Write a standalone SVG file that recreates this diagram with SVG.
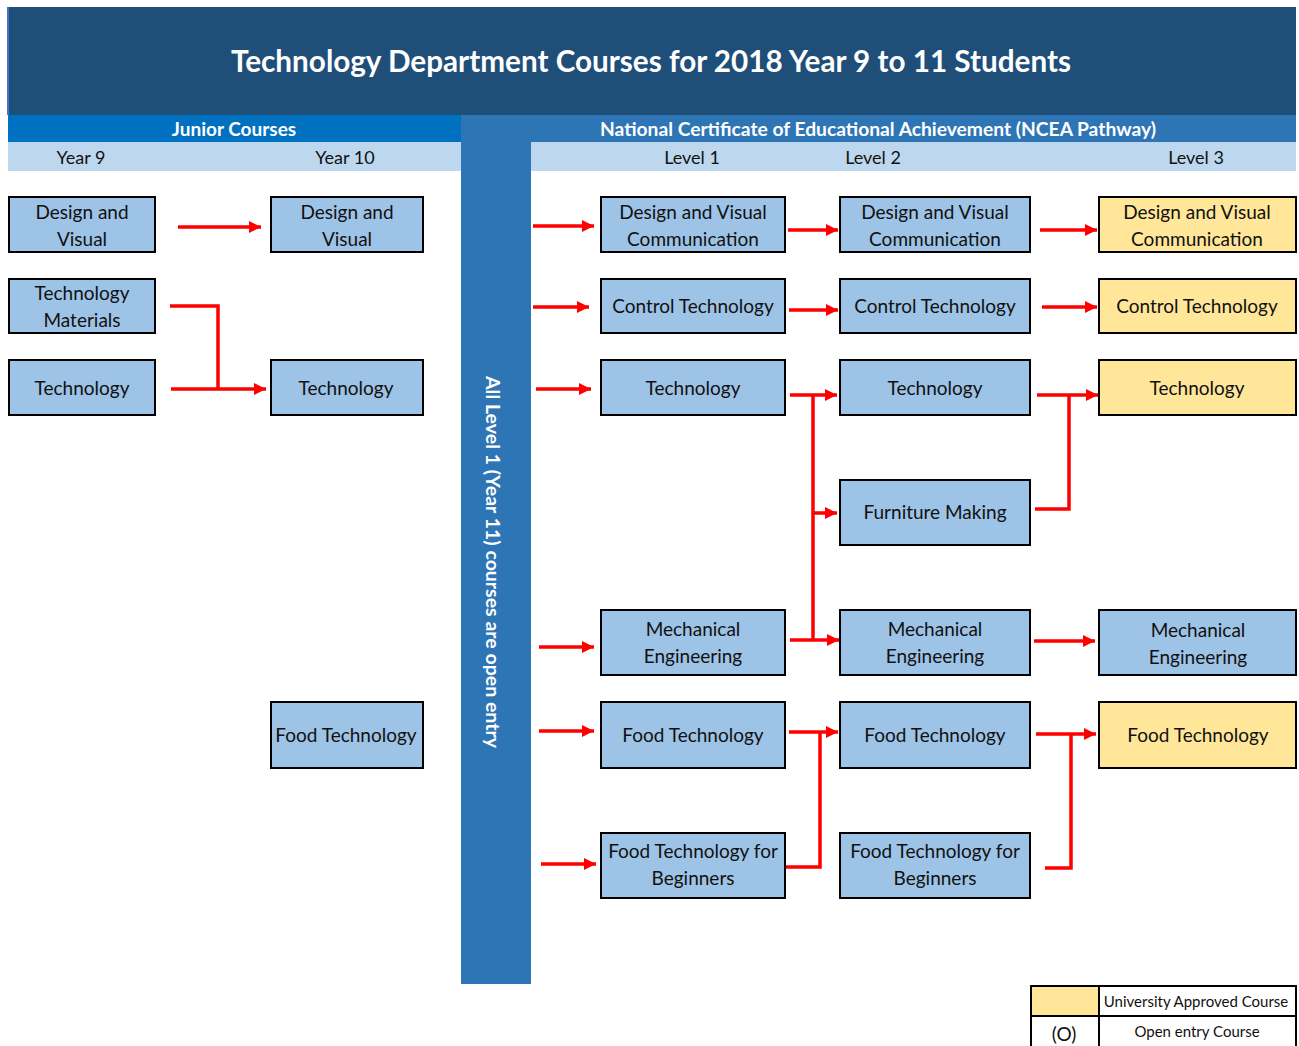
<svg xmlns="http://www.w3.org/2000/svg" width="1299" height="1046" viewBox="0 0 1299 1046">
<defs>
<marker id="ah" markerUnits="userSpaceOnUse" markerWidth="12" markerHeight="12" refX="12" refY="6" orient="auto">
<path d="M0,0 L12,6 L0,12 z" fill="#FF0000"/>
</marker>
<style>
.nb{fill:#9DC3E6;stroke:#000;stroke-width:2}
.ny{fill:#FFE699;stroke:#000;stroke-width:2}
.t{font-family:Lato,"Liberation Sans",sans-serif;font-size:19px;fill:#111;text-anchor:middle}
.hw{font-family:Lato,"Liberation Sans",sans-serif;font-weight:bold;fill:#fff;text-anchor:middle}
.lv{font-family:Lato,"Liberation Sans",sans-serif;font-size:18px;fill:#111;text-anchor:middle}
.c path{fill:none;stroke:#FF0000;stroke-width:3.5}
.a{marker-end:url(#ah)}
.lg{font-family:Lato,"Liberation Sans",sans-serif;font-size:15px;fill:#111;text-anchor:middle}
</style>
</defs>
<rect width="1299" height="1046" fill="#fff"/>
<g id="header">
<rect x="7" y="7" width="1289" height="108" fill="#1F4E79"/>
<rect x="7" y="7" width="2" height="108" fill="#4472C4"/>
<text class="hw" x="651" y="72" style="font-size:30px" textLength="840" lengthAdjust="spacingAndGlyphs">Technology Department Courses for 2018 Year 9 to 11 Students</text>
<rect x="8" y="115" width="453" height="27" fill="#0070C0"/>
<rect x="461" y="115" width="835" height="27" fill="#2E75B6"/>
<text class="hw" x="234" y="136" style="font-size:19px">Junior Courses</text>
<text class="hw" x="878" y="136" style="font-size:19px" textLength="556" lengthAdjust="spacingAndGlyphs">National Certificate of Educational Achievement (NCEA Pathway)</text>
<rect x="8" y="142" width="453" height="29" fill="#BDD7EE"/>
<rect x="531" y="142" width="765" height="29" fill="#BDD7EE"/>
<text class="lv" x="81" y="164">Year 9</text>
<text class="lv" x="345" y="164">Year 10</text>
<text class="lv" x="692" y="164">Level 1</text>
<text class="lv" x="873" y="164">Level 2</text>
<text class="lv" x="1196" y="164">Level 3</text>
</g>
<g id="open-entry-column">
<rect x="461" y="142" width="70" height="842" fill="#2E75B6"/>
<text class="hw" style="font-size:19px" transform="translate(486,562) rotate(90)" textLength="372" lengthAdjust="spacingAndGlyphs">All Level 1 (Year 11) courses are open entry</text>
</g>
<g id="y9-dv"><rect class="nb" x="9" y="197" width="146" height="55"/><text class="t" x="82" y="219">Design and</text><text class="t" x="82" y="246">Visual</text></g>
<g id="y9-tm"><rect class="nb" x="9" y="279" width="146" height="54"/><text class="t" x="82" y="300">Technology</text><text class="t" x="82" y="327">Materials</text></g>
<g id="y9-tech"><rect class="nb" x="9" y="360" width="146" height="55"/><text class="t" x="82" y="395">Technology</text></g>
<g id="y10-dv"><rect class="nb" x="271" y="197" width="152" height="55"/><text class="t" x="347" y="219">Design and</text><text class="t" x="347" y="246">Visual</text></g>
<g id="y10-tech"><rect class="nb" x="271" y="360" width="152" height="55"/><text class="t" x="346" y="395">Technology</text></g>
<g id="y10-food"><rect class="nb" x="271" y="702" width="152" height="66"/><text class="t" x="346" y="742">Food Technology</text></g>
<g id="l1-dvc"><rect class="nb" x="601" y="197" width="184" height="55"/><text class="t" x="693" y="219">Design and Visual</text><text class="t" x="693" y="246">Communication</text></g>
<g id="l1-ct"><rect class="nb" x="601" y="279" width="184" height="54"/><text class="t" x="693" y="313">Control Technology</text></g>
<g id="l1-tech"><rect class="nb" x="601" y="360" width="184" height="55"/><text class="t" x="693" y="395">Technology</text></g>
<g id="l1-me"><rect class="nb" x="601" y="610" width="184" height="65"/><text class="t" x="693" y="636">Mechanical</text><text class="t" x="693" y="663">Engineering</text></g>
<g id="l1-food"><rect class="nb" x="601" y="702" width="184" height="66"/><text class="t" x="693" y="742">Food Technology</text></g>
<g id="l1-ftb"><rect class="nb" x="601" y="833" width="184" height="65"/><text class="t" x="693" y="858">Food Technology for</text><text class="t" x="693" y="885">Beginners</text></g>
<g id="l2-dvc"><rect class="nb" x="840" y="197" width="190" height="55"/><text class="t" x="935" y="219">Design and Visual</text><text class="t" x="935" y="246">Communication</text></g>
<g id="l2-ct"><rect class="nb" x="840" y="279" width="190" height="54"/><text class="t" x="935" y="313">Control Technology</text></g>
<g id="l2-tech"><rect class="nb" x="840" y="360" width="190" height="55"/><text class="t" x="935" y="395">Technology</text></g>
<g id="l2-furn"><rect class="nb" x="840" y="480" width="190" height="65"/><text class="t" x="935" y="519">Furniture Making</text></g>
<g id="l2-me"><rect class="nb" x="840" y="610" width="190" height="65"/><text class="t" x="935" y="636">Mechanical</text><text class="t" x="935" y="663">Engineering</text></g>
<g id="l2-food"><rect class="nb" x="840" y="702" width="190" height="66"/><text class="t" x="935" y="742">Food Technology</text></g>
<g id="l2-ftb"><rect class="nb" x="840" y="833" width="190" height="65"/><text class="t" x="935" y="858">Food Technology for</text><text class="t" x="935" y="885">Beginners</text></g>
<g id="l3-dvc"><rect class="ny" x="1099" y="197" width="197" height="55"/><text class="t" x="1197" y="219">Design and Visual</text><text class="t" x="1197" y="246">Communication</text></g>
<g id="l3-ct"><rect class="ny" x="1099" y="279" width="197" height="54"/><text class="t" x="1197" y="313">Control Technology</text></g>
<g id="l3-tech"><rect class="ny" x="1099" y="360" width="197" height="55"/><text class="t" x="1197" y="395">Technology</text></g>
<g id="l3-me"><rect class="nb" x="1099" y="610" width="197" height="65"/><text class="t" x="1198" y="637">Mechanical</text><text class="t" x="1198" y="664">Engineering</text></g>
<g id="l3-food"><rect class="ny" x="1099" y="702" width="197" height="66"/><text class="t" x="1198" y="742">Food Technology</text></g>
<g id="connectors" class="c">
<path class="a" d="M178,227 H261"/>
<path d="M170,306 H218 V389"/>
<path class="a" d="M171,389 H266"/>
<path class="a" d="M533,226 H594"/>
<path class="a" d="M533,307 H589"/>
<path class="a" d="M536,389 H591"/>
<path class="a" d="M539,647 H594"/>
<path class="a" d="M539,731 H594"/>
<path class="a" d="M541,864 H596"/>
<path class="a" d="M788,230 H838"/>
<path class="a" d="M789,310 H838"/>
<path class="a" d="M790,395 H837"/>
<path d="M813,395 V640"/>
<path class="a" d="M813,513 H837"/>
<path class="a" d="M790,640 H839"/>
<path class="a" d="M1040,230 H1097"/>
<path class="a" d="M1042,307 H1097"/>
<path class="a" d="M1037,395 H1098"/>
<path d="M1035,509 H1069 V395"/>
<path class="a" d="M1034,641 H1095"/>
<path class="a" d="M789,732 H838"/>
<path d="M786,867 H820 V732"/>
<path class="a" d="M1036,734 H1096"/>
<path d="M1045,868 H1071 V734"/>
</g>
<g id="legend">
<rect x="1031" y="986" width="68" height="30" fill="#FFE699"/>
<path d="M1031,1046 V986 H1296 V1046 M1031,1016 H1296 M1099,986 V1046" fill="none" stroke="#000" stroke-width="2"/>
<text class="lg" x="1196" y="1007">University Approved Course</text>
<text class="lg" x="1064" y="1041" style="font-size:19px">(O)</text>
<text class="lg" x="1197" y="1037">Open entry Course</text>
</g>
</svg>
